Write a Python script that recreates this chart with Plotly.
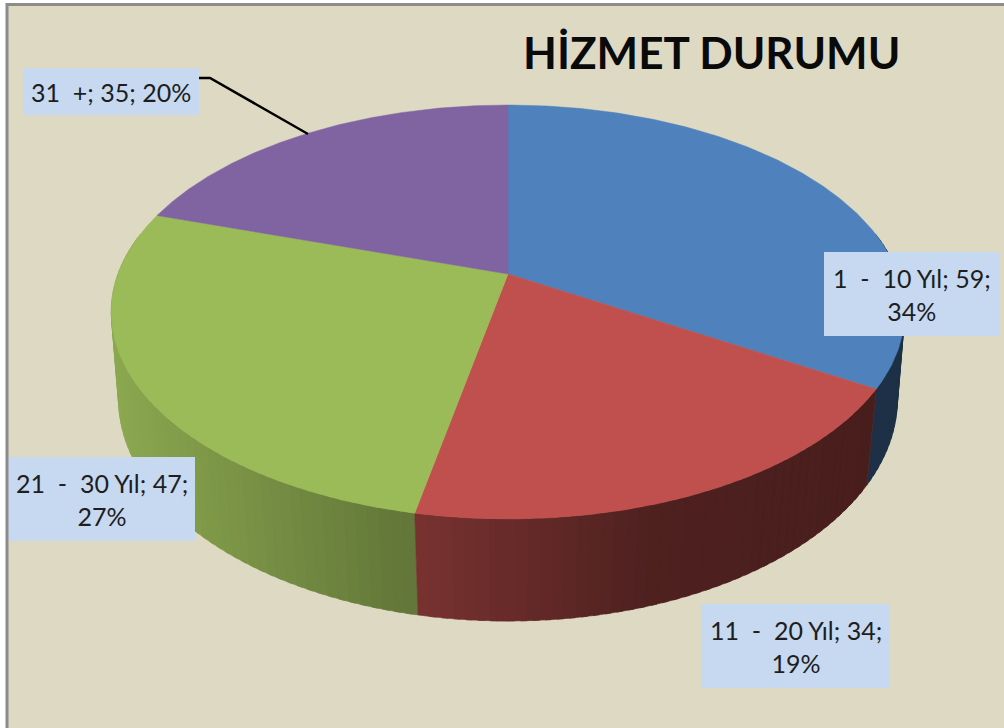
import numpy as np
import plotly.graph_objects as go

NB = "\u00a0"
categories = [f"1{NB}{NB}-{NB}{NB}10 Yıl", f"11{NB}{NB}-{NB}{NB}20 Yıl", f"21{NB}{NB}-{NB}{NB}30 Yıl", f"31{NB}{NB}+"]
values = [59, 34, 47, 35]
percents = [34, 19, 27, 20]
colors = ["#4F81BD", "#C0504D", "#9BBB59", "#8064A2"]
title_text = "HİZMET DURUMU"

W, H = 1004, 728
BG = "#DDD9C3"
LABEL_BG = "#C6D9F1"
TEXT = "#1E1E1E"

# perspective circle: (cx, cy, a, b, k) for top face and for base rim
TOP = (508, 274, 390, 200, 0.1836)
BASE = (508, 362, 384, 216, 0.166)
# side shading against screen x
SHADE_X = [115, 416, 640, 905]
SHADE_V = [0.90, 0.63, 0.41, 0.37]


def proj(p, deg):
    cx, cy, a, b, k = p
    t = np.radians(deg)
    d = 1 + k * np.cos(t)
    return cx + a * np.sin(t) / d, cy - b * np.cos(t) / d


def shade(col, f):
    r, g, b = int(col[1:3], 16), int(col[3:5], 16), int(col[5:7], 16)
    return f"rgb({r*f:.0f},{g*f:.0f},{b*f:.0f})"


total = sum(values)
edges = np.concatenate([[0], np.cumsum(values) / total * 360])

fig = go.Figure()

# side wall: overlapping strips, painted back to front
VIS0, VIS1 = 78, 282
strips = []
for i, col in enumerate(colors):
    s, e = max(edges[i], VIS0), min(edges[i + 1], VIS1)
    if e <= s:
        continue
    th = np.linspace(s, e, max(2, int((e - s) / 1.5)) + 1)
    for t0, t1 in zip(th[:-1], th[1:]):
        strips.append((t0, t1, col, s, e))
strips.sort(key=lambda q: -abs(((q[0] + q[1]) / 2) - 180))
for t0, t1, col, s, e in strips:
    mid = (t0 + t1) / 2
    # widen each strip under its front neighbour, staying within its own slice
    if mid < 180:
        t1 = min(t1 + 0.8, e)
    else:
        t0 = max(t0 - 0.8, s)
    x0, y0 = proj(TOP, t0)
    x1, y1 = proj(TOP, t1)
    x2, y2 = proj(BASE, t1)
    x3, y3 = proj(BASE, t0)
    c = shade(col, float(np.interp((x0 + x1 + x2 + x3) / 4, SHADE_X, SHADE_V)))
    fig.add_trace(go.Scatter(
        x=[x0, x1, x2, x3, x0], y=[y0, y1, y2, y3, y0], mode="lines",
        fill="toself", fillcolor=c, line=dict(color=c, width=0.6),
        hoverinfo="skip", showlegend=False))

# top face wedges
for i, (cat, col) in enumerate(zip(categories, colors)):
    th = np.linspace(edges[i], edges[i + 1], 200)
    xs, ys = proj(TOP, th)
    fig.add_trace(go.Scatter(
        x=np.concatenate([[TOP[0]], xs, [TOP[0]]]),
        y=np.concatenate([[TOP[1]], ys, [TOP[1]]]),
        mode="lines", fill="toself", fillcolor=col,
        line=dict(color=col, width=0.5), name=cat, showlegend=False,
        hovertemplate=f"{cat}: %{{text}}<extra></extra>", text=[values[i]] * 202))

# label boxes (x0, x1, y0, y1) and the text in them
boxes = [(824, 1000, 252, 336), (701, 890, 604, 688), (8, 195, 457, 541), (23, 199, 68, 115)]
wrap = [True, True, True, False]
shapes = []
annotations = []
for i, b in enumerate(boxes):
    shapes.append(dict(type="rect", xref="x", yref="y", x0=b[0], x1=b[1], y0=b[2], y1=b[3],
                       fillcolor=LABEL_BG, line=dict(width=0), layer="above"))
    sep = ";<br>" if wrap[i] else "; "
    annotations.append(dict(
        x=(b[0] + b[1]) / 2, y=(b[2] + b[3]) / 2, xref="x", yref="y", showarrow=False,
        text=f"{categories[i]}; {values[i]}{sep}{percents[i]}%", align="center",
        font=dict(family="Lato", size=25, color=TEXT)))

annotations.append(dict(x=711, y=52, xref="x", yref="y", showarrow=False, text=f"<b>{title_text}</b>",
                        font=dict(family="Lato", size=44, color="#0A0A0A")))

# leader line for the last label
shapes.append(dict(type="path", path="M 199 78 L 210 78 L 308 134", xref="x", yref="y",
                   line=dict(color="#000000", width=2.5), layer="above"))

# gray frame
shapes.append(dict(type="rect", xref="x", yref="y", x0=7, x1=W + 5, y0=4.5, y1=H + 5,
                   line=dict(color="#8C8C8C", width=3), layer="above"))
# backdrop panel inside the frame
shapes.append(dict(type="rect", xref="x", yref="y", x0=7, x1=W + 5, y0=4.5, y1=H + 5,
                   fillcolor=BG, line=dict(width=0), layer="below"))

fig.update_layout(
    width=W, height=H, margin=dict(l=0, r=0, t=0, b=0),
    paper_bgcolor="#FFFFFF", plot_bgcolor="#FFFFFF",
    xaxis=dict(range=[0, W], visible=False, fixedrange=True),
    yaxis=dict(range=[H, 0], visible=False, fixedrange=True),
    shapes=shapes, annotations=annotations, showlegend=False)

fig.write_html("out.html", config=dict(displayModeBar=False),
               post_script="document.body.style.margin='0';document.body.style.overflow='hidden';")
